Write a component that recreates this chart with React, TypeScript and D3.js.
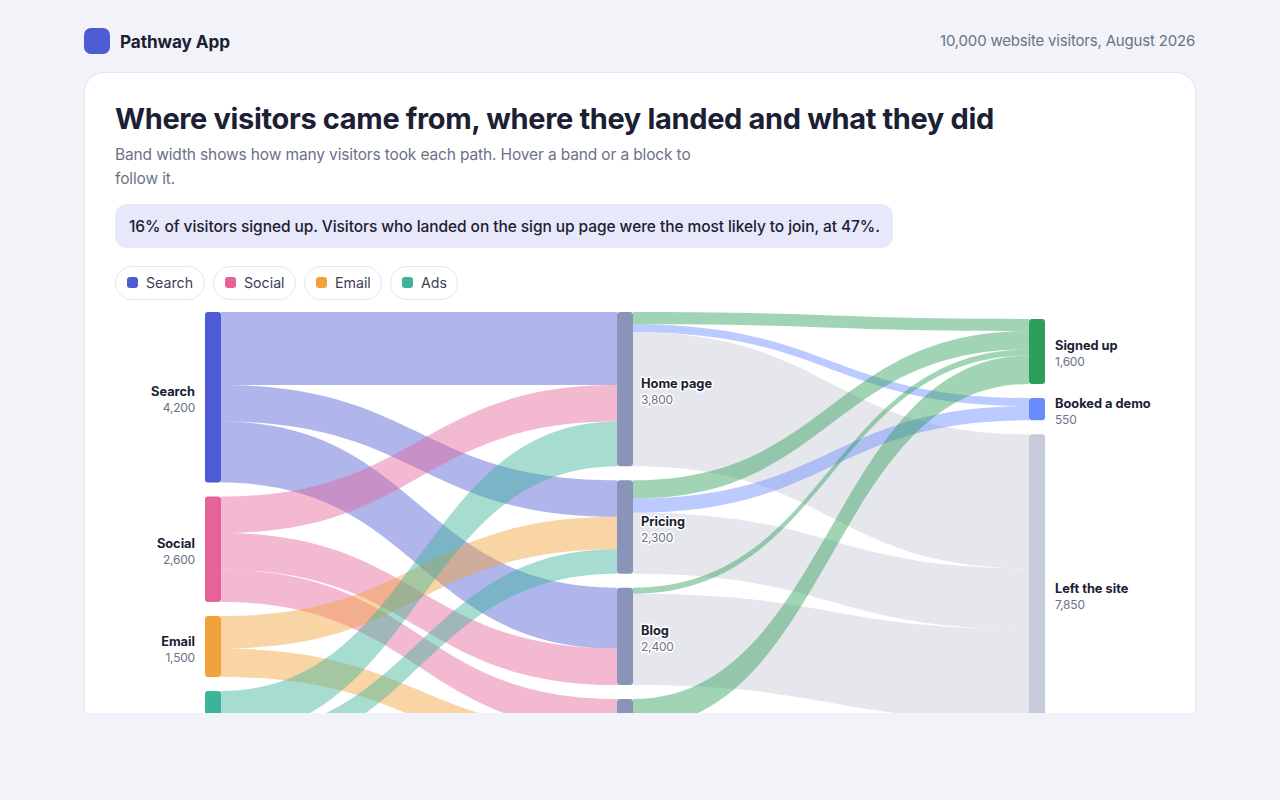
import * as d3 from "d3";

const sources = ["Search", "Social", "Email", "Ads"];
const pages = ["Home page", "Pricing", "Blog", "Sign up page"];
const outcomes = ["Signed up", "Booked a demo", "Left the site"];

// [from, to, visitors]
const sourceFlows: [string, string, number][] = [
  ["Search", "Home page", 1800],
  ["Search", "Pricing", 900],
  ["Search", "Blog", 1500],
  ["Social", "Home page", 900],
  ["Social", "Blog", 900],
  ["Social", "Sign up page", 800],
  ["Email", "Pricing", 800],
  ["Email", "Sign up page", 700],
  ["Ads", "Home page", 1100],
  ["Ads", "Pricing", 600],
];
const pageFlows: [string, string, number][] = [
  ["Home page", "Signed up", 300],
  ["Home page", "Booked a demo", 200],
  ["Home page", "Left the site", 3300],
  ["Pricing", "Signed up", 450],
  ["Pricing", "Booked a demo", 350],
  ["Pricing", "Left the site", 1500],
  ["Blog", "Signed up", 150],
  ["Blog", "Left the site", 2250],
  ["Sign up page", "Signed up", 700],
  ["Sign up page", "Left the site", 800],
];

const nodeColors: Record<string, string> = {
  Search: "#4f5bd5",
  Social: "#e56399",
  Email: "#f2a23a",
  Ads: "#3cb39a",
  "Home page": "#8a93b8",
  Pricing: "#8a93b8",
  Blog: "#8a93b8",
  "Sign up page": "#8a93b8",
  "Signed up": "#2e9e5b",
  "Booked a demo": "#6b8cff",
  "Left the site": "#c5cbd8",
};
const leftBandColor = "#c7cad5";

const FONT = "Inter, 'Noto Sans', sans-serif";
const INK = "#1b2033";
const MUTED = "#6b7285";
const LINE = "#e4e6f0";

const chartTop = 312;
const chartHeight = 448;
const nodeGap = 14;
const nodeWidth = 16;
const columnX = [205, 617, 1029];
const labelGap = [10, 8, 10];
const columns = [sources, pages, outcomes];
const allFlows = [...sourceFlows, ...pageFlows];

const total = d3.sum(sourceFlows, (d) => d[2]);
const size = d3
  .scaleLinear()
  .domain([0, total])
  .range([0, chartHeight - nodeGap * 3]);
const fmt = d3.format(",");

interface INode {
  name: string;
  col: number;
  value: number;
  y0: number;
  y1: number;
}
interface ILink {
  source: INode;
  target: INode;
  sy0: number;
  sy1: number;
  ty0: number;
  ty1: number;
}

function layout() {
  const nodes = new Map<string, INode>();
  columns.forEach((names, col) => {
    const values = names.map((n) =>
      d3.sum(allFlows, (f) => (f[col === 0 ? 0 : 1] === n ? f[2] : 0)),
    );
    const used = size(d3.sum(values)) + nodeGap * (names.length - 1);
    let y = chartTop + (chartHeight - used) / 2;
    names.forEach((name, i) => {
      const h = size(values[i]);
      nodes.set(name, { name, col, value: values[i], y0: y, y1: y + h });
      y += h + nodeGap;
    });
  });
  const out = new Map<string, number>();
  const inc = new Map<string, number>();
  const links: ILink[] = allFlows.map(([from, to, value]) => {
    const source = nodes.get(from)!;
    const target = nodes.get(to)!;
    const sy0 = out.get(from) ?? source.y0;
    const ty0 = inc.get(to) ?? target.y0;
    const h = size(value);
    out.set(from, sy0 + h);
    inc.set(to, ty0 + h);
    return { source, target, sy0, sy1: sy0 + h, ty0, ty1: ty0 + h };
  });
  return { nodes: [...nodes.values()], links };
}

const band = d3
  .area<{ x: number; y0: number; y1: number }>()
  .x((d) => d.x)
  .y0((d) => d.y0)
  .y1((d) => d.y1)
  .curve(d3.curveBumpX);

function linkPath(l: ILink) {
  return band([
    { x: columnX[l.source.col] + nodeWidth, y0: l.sy0, y1: l.sy1 },
    { x: columnX[l.target.col], y0: l.ty0, y1: l.ty1 },
  ]);
}

function linkColor(l: ILink) {
  if (l.source.col === 0) return nodeColors[l.source.name];
  return l.target.name === "Left the site" ? leftBandColor : nodeColors[l.target.name];
}

const legendX = [115, 213, 304, 390];
const legendW = [90, 83, 78, 68];

export default function App() {
  const { nodes, links } = layout();
  return (
    <svg
      width={1280}
      height={800}
      viewBox="0 0 1280 800"
      style={{ position: "absolute", left: 0, top: 0, display: "block" }}
      fontFamily={FONT}
    >
      <defs>
        <clipPath id="page-clip">
          <rect x={0} y={0} width={1280} height={713} />
        </clipPath>
      </defs>
      <rect width={1280} height={800} fill="#f1f3f9" />

      <rect x={84} y={28} width={26} height={26} rx={7} fill="#4f5bd5" />
      <text x={120} y={48} fontSize={17.2} fontWeight={700} fill={INK} letterSpacing={-0.1}>
        Pathway App
      </text>
      <text x={1195} y={46} fontSize={15} fill={MUTED} textAnchor="end" letterSpacing={-0.19}>
        10,000 website visitors, August 2026
      </text>

      <g clipPath="url(#page-clip)">
        <rect x={84.5} y={72.5} width={1111} height={700} rx={20} fill="#fff" stroke={LINE} />

        <text x={115} y={129} fontSize={29} fontWeight={700} fill={INK} letterSpacing={-0.35}>
          Where visitors came from, where they landed and what they did
        </text>
        <text x={115} y={160} fontSize={15.5} fill={MUTED} letterSpacing={-0.14}>
          Band width shows how many visitors took each path. Hover a band or a block to
        </text>
        <text x={115} y={184} fontSize={15.5} fill={MUTED} letterSpacing={-0.14}>
          follow it.
        </text>

        <rect x={115} y={204} width={778} height={44} rx={12} fill="#e7e8f9" />
        <text x={129} y={232} fontSize={15.5} fontWeight={500} fill={INK} letterSpacing={-0.07}>
          16% of visitors signed up. Visitors who landed on the sign up page were the most likely to join, at 47%.
        </text>

        {sources.map((s, i) => (
          <g key={s}>
            <rect
              x={legendX[i] + 0.5}
              y={266.5}
              width={legendW[i] - 1}
              height={33}
              rx={16.5}
              fill="#fff"
              stroke={LINE}
            />
            <rect x={legendX[i] + 12} y={277} width={11} height={11} rx={3} fill={nodeColors[s]} />
            <text x={legendX[i] + 31} y={288} fontSize={14.2} fill="#3a4056">
              {s}
            </text>
          </g>
        ))}

        <g fillOpacity={0.45}>
          {links.map((l) => (
            <path
              key={`${l.source.name}-${l.target.name}`}
              d={linkPath(l) ?? ""}
              fill={linkColor(l)}
            />
          ))}
        </g>

        {nodes.map((n) => (
          <rect
            key={n.name}
            x={columnX[n.col]}
            y={n.y0}
            width={nodeWidth}
            height={n.y1 - n.y0}
            rx={3}
            fill={nodeColors[n.name]}
          />
        ))}

        {nodes.map((n) => {
          const mid = (n.y0 + n.y1) / 2;
          const x =
            n.col === 0
              ? columnX[0] - labelGap[0]
              : columnX[n.col] + nodeWidth + labelGap[n.col];
          const anchor = n.col === 0 ? "end" : "start";
          return (
            <g
              key={n.name}
              textAnchor={anchor}
              stroke="#fff"
              strokeWidth={3}
              strokeLinejoin="round"
              style={{ paintOrder: "stroke" }}
            >
              <text x={x} y={mid - 1} fontSize={12.8} fontWeight={700} fill={INK}>
                {n.name}
              </text>
              <text x={x} y={mid + 15} fontSize={12} fill={MUTED} letterSpacing={-0.2}>
                {fmt(n.value)}
              </text>
            </g>
          );
        })}
      </g>
    </svg>
  );
}
